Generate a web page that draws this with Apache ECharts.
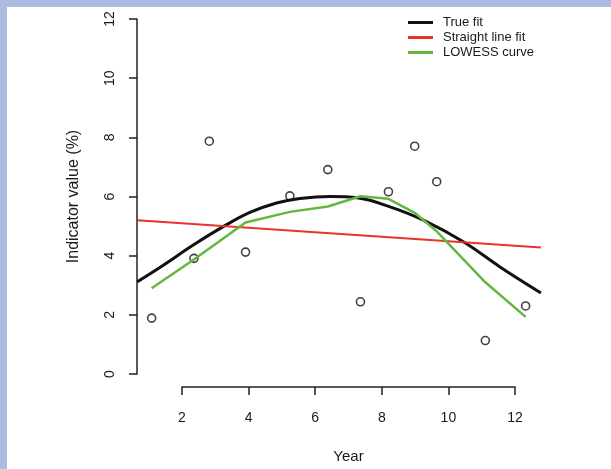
<!DOCTYPE html>
<html>
<head>
<meta charset="utf-8">
<script src="https://cdn.jsdelivr.net/npm/echarts@6/dist/echarts.min.js"></script>
<style>
  html, body { margin: 0; padding: 0; background: #fff; }
  #c { width: 611px; height: 469px; background: #fff; box-shadow: inset 7px 7px 0 #aebbe0; }
</style>
</head>
<body>
<div id="c"></div>
<script>
// Observed data points
const pointsX = [1.09, 2.36, 2.82, 3.91, 5.24, 6.38, 7.36, 8.20, 8.99, 9.65, 11.11, 12.32];
const pointsY = [1.89, 3.91, 7.87, 4.12, 6.02, 6.91, 2.44, 6.16, 7.70, 6.50, 1.13, 2.30];

// True fit curve
const trueFitX = [0.66, 1.44, 2.34, 3.24, 4.04, 4.84, 5.54, 6.44, 7.30, 8.25, 9.25, 10.45, 11.55, 12.78];
const trueFitY = [3.12, 3.68, 4.36, 4.98, 5.46, 5.78, 5.93, 6.00, 5.95, 5.65, 5.20, 4.47, 3.62, 2.74];

// Straight line fit (end points)
const straightX = [0.66, 12.78];
const straightY = [5.20, 4.28];

// LOWESS curve evaluated at the data x positions
const lowessX = [1.09, 2.36, 2.82, 3.91, 5.24, 6.38, 7.36, 8.20, 8.99, 9.65, 11.11, 12.32];
const lowessY = [2.90, 3.87, 4.24, 5.12, 5.48, 5.66, 6.01, 5.92, 5.45, 4.82, 3.10, 1.93];

// Axis ticks
const xTicks = [2, 4, 6, 8, 10, 12];
const yTicks = [0, 2, 4, 6, 8, 10, 12];
// Plot region x extent (R style, data range widened by 4%)
const xRegion = [0.65, 12.8];

const seriesNames = ['True fit', 'Straight line fit', 'LOWESS curve'];

const zip = (xs, ys) => xs.map((x, i) => [x, ys[i]]);

const chart = echarts.init(document.getElementById('c'), null, { renderer: 'canvas' });
const font = "'Liberation Sans', Arial, Helvetica, sans-serif";
const axisColor = '#222';
const textColor = '#1a1a1a';

chart.setOption({
  animation: false,
  backgroundColor: 'transparent',
  textStyle: { fontFamily: font },
  grid: [
    { left: 137, top: 19, width: 404.6, height: 355, containLabel: false },
    { left: 182, top: 19, width: 333, height: 372, containLabel: false }
  ],
  legend: {
    data: seriesNames,
    orient: 'vertical',
    left: 403,
    top: 11,
    icon: 'rect',
    itemWidth: 25,
    itemHeight: 3,
    itemGap: 2,
    textStyle: { fontFamily: font, fontSize: 13, color: textColor, padding: [0, 0, 0, 5] }
  },
  xAxis: [
    {
      gridIndex: 0,
      type: 'value',
      min: xRegion[0],
      max: xRegion[1],
      show: false
    },
    {
      gridIndex: 1,
      type: 'value',
      min: xTicks[0],
      max: xTicks[xTicks.length - 1],
      interval: 2,
      name: 'Year',
      nameLocation: 'middle',
      nameGap: 62,
      nameTextStyle: { fontFamily: font, fontSize: 15, color: textColor },
      axisLine: { show: true, lineStyle: { color: axisColor, width: 1.5 } },
      axisTick: { show: true, inside: false, length: 8, lineStyle: { color: axisColor, width: 1.5 } },
      axisLabel: { fontFamily: font, fontSize: 14, color: textColor, margin: 24 },
      splitLine: { show: false }
    }
  ],
  yAxis: [
    {
      gridIndex: 0,
      type: 'value',
      min: yTicks[0],
      max: yTicks[yTicks.length - 1],
      interval: 2,
      name: 'Indicator value (%)',
      nameLocation: 'middle',
      nameRotate: 90,
      nameGap: 55,
      nameTextStyle: { fontFamily: font, fontSize: 16, color: textColor },
      axisLine: { show: true, lineStyle: { color: axisColor, width: 1.5 } },
      axisTick: { show: true, inside: false, length: 8, lineStyle: { color: axisColor, width: 1.5 } },
      axisLabel: { fontFamily: font, fontSize: 14, color: textColor, rotate: 90, margin: 20 },
      splitLine: { show: false }
    },
    {
      gridIndex: 1,
      type: 'value',
      min: yTicks[0],
      max: yTicks[yTicks.length - 1],
      show: false
    }
  ],
  series: [
    {
      name: 'Data',
      type: 'scatter',
      xAxisIndex: 0,
      yAxisIndex: 0,
      data: zip(pointsX, pointsY),
      symbol: 'circle',
      symbolSize: 8,
      itemStyle: { color: 'rgba(255,255,255,0)', borderColor: '#111', borderWidth: 1.6 },
      z: 2
    },
    {
      name: seriesNames[0],
      type: 'line',
      xAxisIndex: 0,
      yAxisIndex: 0,
      data: zip(trueFitX, trueFitY),
      smooth: 0.4,
      showSymbol: false,
      symbol: 'none',
      color: '#111',
      lineStyle: { color: '#111', width: 3 },
      z: 3
    },
    {
      name: seriesNames[1],
      type: 'line',
      xAxisIndex: 0,
      yAxisIndex: 0,
      data: zip(straightX, straightY),
      showSymbol: false,
      symbol: 'none',
      color: '#e8322a',
      lineStyle: { color: '#e8322a', width: 2 },
      z: 4
    },
    {
      name: seriesNames[2],
      type: 'line',
      xAxisIndex: 0,
      yAxisIndex: 0,
      data: zip(lowessX, lowessY),
      showSymbol: false,
      symbol: 'none',
      color: '#62b83e',
      lineStyle: { color: '#62b83e', width: 2.5 },
      z: 5
    }
  ]
});
</script>
</body>
</html>
